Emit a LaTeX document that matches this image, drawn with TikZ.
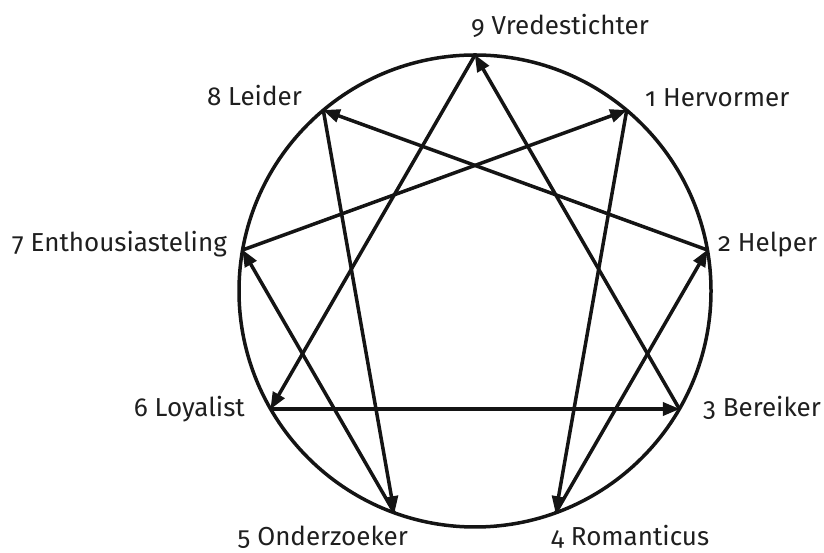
\documentclass[tikz,border=0pt]{standalone}
\usepackage{fontspec}
\setmainfont{Fira Sans}[Numbers=OldStyle]
\usetikzlibrary{arrows.meta,calc}
\begin{document}
\begin{tikzpicture}[x=1pt,y=1pt,
  ring/.style={line width=3.5pt,black!92},
  link/.style={line width=3.5pt,black!92,-{Triangle[length=17pt,width=13pt]},shorten >=-0.5pt},
  lbl/.style={inner sep=0pt,font=\fontsize{26}{30}\selectfont,text=black!88}]
\useasboundingbox (0,0) rectangle (824,553);
\coordinate (c) at (475,262);
\draw[ring] (c) circle (236);
\coordinate (p9) at ($(c)+(90:236)$);
\coordinate (p1) at ($(c)+(50:236)$);
\coordinate (p2) at ($(c)+(10:236)$);
\coordinate (p3) at ($(c)+(-30:236)$);
\coordinate (p4) at ($(c)+(-70:236)$);
\coordinate (p5) at ($(c)+(-110:236)$);
\coordinate (p6) at ($(c)+(-150:236)$);
\coordinate (p7) at ($(c)+(170:236)$);
\coordinate (p8) at ($(c)+(130:236)$);
\draw[link] (p7) -- (p1);
\draw[link] (p1) -- (p4);
\draw[link] (p4) -- (p2);
\draw[link] (p2) -- (p8);
\draw[link] (p8) -- (p5);
\draw[link] (p5) -- (p7);
\draw[link] (p9) -- (p6);
\draw[link] (p6) -- (p3);
\draw[link] (p3) -- (p9);
\node[lbl,anchor=base west] (l9) at (471,518) {9 Vredestichter};
\node[lbl,anchor=base west] (l1) at (645,446) {1 Hervormer};
\node[lbl,anchor=base west] (l2) at (718,301) {2 Helper};
\node[lbl,anchor=base west] (l3) at (703,136) {3 Bereiker};
\node[lbl,anchor=base west] (l4) at (551,7) {4 Romanticus};
\node[lbl,anchor=base east] (l5) at (408,7) {5 Onderzoeker};
\node[lbl,anchor=base east] (l6) at (245,136) {6 Loyalist};
\node[lbl,anchor=base east] (l7) at (227,301) {7 Enthousiasteling};
\node[lbl,anchor=base east] (l8) at (302,447) {8 Leider};
\end{tikzpicture}
\end{document}
